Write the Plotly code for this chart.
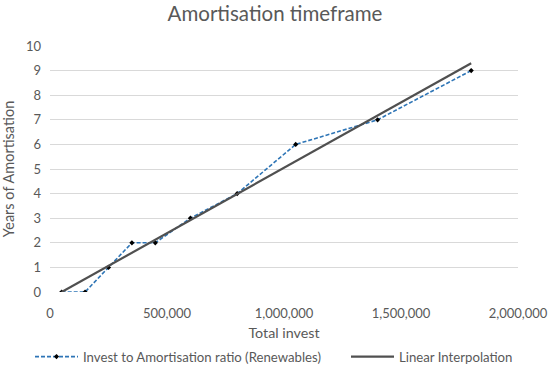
import plotly.graph_objects as go

# Data
invest = [50000, 150000, 250000, 350000, 450000, 600000, 800000, 1050000, 1400000, 1800000]
years = [0, 0, 1, 2, 2, 3, 4, 6, 7, 9]

trend_x = [50000, 1800000]
trend_y = [0.0, 9.3]

x_ticks = [0, 500000, 1000000, 1500000, 2000000]
y_ticks = list(range(0, 11))

FONT = "Lato, Carlito, Calibri, sans-serif"
GRAY = "#595959"

fig = go.Figure()
fig.add_trace(go.Scatter(
    x=invest, y=years, mode="lines+markers",
    name="Invest to Amortisation ratio (Renewables)",
    line=dict(color="#2E75B6", width=1.6, dash="4px,2px"),
    marker=dict(symbol="diamond", size=4, color="black"),
    legend="legend",
))
fig.add_trace(go.Scatter(
    x=trend_x, y=trend_y, mode="lines",
    name="Linear Interpolation",
    line=dict(color="#505050", width=2.2),
    legend="legend2",
))

leg_common = dict(orientation="h", xref="container", xanchor="left",
                  yref="container", y=1 - 357 / 374, yanchor="middle",
                  font=dict(size=13.2, color=GRAY), itemwidth=43,
                  bgcolor="rgba(0,0,0,0)")

fig.update_layout(
    width=550, height=374,
    paper_bgcolor="white", plot_bgcolor="white",
    margin=dict(l=50, r=32, t=46, b=82, autoexpand=False),
    font=dict(family=FONT, color=GRAY, size=13),
    title=dict(text="Amortisation timeframe", x=0.5, xanchor="center",
               y=1 - 14 / 374, yanchor="middle",
               font=dict(size=20.5, color=GRAY, family=FONT)),
    showlegend=True,
    legend=dict(x=30 / 550, **leg_common),
    legend2=dict(x=346 / 550, **leg_common),
    xaxis=dict(range=[0, 2000000], tickvals=x_ticks, tickformat=",",
               showgrid=False, zeroline=False, showline=False, automargin=False,
               ticks="", ticklabelstandoff=12, tickfont=dict(size=13, color=GRAY),
               title=dict(text="Total invest", font=dict(size=14.3, color=GRAY), standoff=14)),
    yaxis=dict(range=[0, 10], tickvals=y_ticks, showgrid=True, automargin=False,
               gridcolor="#D9D9D9", gridwidth=1, zeroline=False,
               showline=False, ticks="", ticklabelstandoff=8,
               tickfont=dict(size=13, color=GRAY),
               title=dict(text="Years of Amortisation", font=dict(size=14.5, color=GRAY), standoff=8)),
)

fig.write_html("out.html", config={"displayModeBar": False},
               post_script="document.body.style.margin='0';")
